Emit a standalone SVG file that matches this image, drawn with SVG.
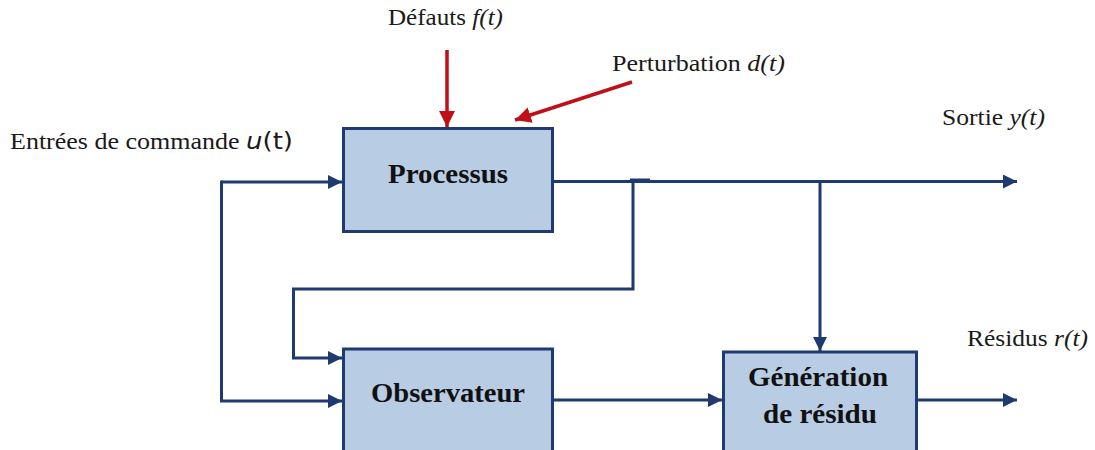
<svg xmlns="http://www.w3.org/2000/svg" width="1095" height="450" viewBox="0 0 1095 450">
<style>
.box{fill:#b8cce4;stroke:#1f3a70;stroke-width:3}
.lbl{font-family:"Liberation Serif","Times New Roman",serif;font-size:23px;fill:#1a1a1a}
.bt{font-family:"Liberation Serif","Times New Roman",serif;font-size:27px;font-weight:bold;fill:#111;text-anchor:middle}
.c{fill:none;stroke:#1f3a70;stroke-width:3}
.r{fill:none;stroke:#c00f16;stroke-width:3.5}
</style>
<defs>
<marker id="a" markerWidth="16" markerHeight="16" refX="14" refY="7" orient="auto" markerUnits="userSpaceOnUse"><path d="M0,0 L14,7 L0,14 z" fill="#1f3a70"/></marker>
<marker id="ar" markerWidth="18" markerHeight="18" refX="16" refY="8" orient="auto" markerUnits="userSpaceOnUse"><path d="M0,0 L16,8 L0,16 z" fill="#c00f16"/></marker>
</defs>
<rect width="1095" height="450" fill="#fff"/>
<g id="connectors">
<path class="c" d="M553,181.5 H1017" marker-end="url(#a)"/>
<path class="c" d="M630,180 H650"/>
<path class="c" d="M633,181.5 V289 H293.5 V358 H342" marker-end="url(#a)"/>
<path class="c" d="M820,181.5 V351" marker-end="url(#a)"/>
<path class="c" d="M221.5,182 H342" marker-end="url(#a)"/>
<path class="c" d="M221.5,180.5 V401 H342" marker-end="url(#a)"/>
<path class="c" d="M553,400 H722" marker-end="url(#a)"/>
<path class="c" d="M917,400 H1017" marker-end="url(#a)"/>
<path class="r" d="M447,50 V127" marker-end="url(#ar)"/>
<path class="r" d="M632,82 L515,120" marker-end="url(#ar)"/>
</g>
<g id="processus">
<rect class="box" x="343.5" y="128.5" width="209" height="103"/>
<text class="bt" x="448" y="183" textLength="120" lengthAdjust="spacingAndGlyphs">Processus</text>
</g>
<g id="observateur">
<rect class="box" x="343.5" y="349" width="209" height="115"/>
<text class="bt" x="448" y="402" textLength="154" lengthAdjust="spacingAndGlyphs">Observateur</text>
</g>
<g id="generation">
<rect class="box" x="723.5" y="352" width="193" height="115"/>
<text class="bt" x="818" y="386" textLength="140" lengthAdjust="spacingAndGlyphs">Génération</text>
<text class="bt" x="820" y="423" textLength="114" lengthAdjust="spacingAndGlyphs">de résidu</text>
</g>
<g id="labels">
<text class="lbl" x="388" y="25" textLength="115" lengthAdjust="spacingAndGlyphs">Défauts <tspan font-style="italic">f(t)</tspan></text>
<text class="lbl" x="612" y="71" textLength="173" lengthAdjust="spacingAndGlyphs">Perturbation <tspan font-style="italic">d(t)</tspan></text>
<text class="lbl" x="10" y="149" textLength="283" lengthAdjust="spacingAndGlyphs">Entrées de commande <tspan font-family="'DejaVu Sans',sans-serif" font-style="italic">u</tspan><tspan font-family="'DejaVu Sans',sans-serif">(t)</tspan></text>
<text class="lbl" x="942" y="125" textLength="103" lengthAdjust="spacingAndGlyphs">Sortie <tspan font-style="italic">y(t)</tspan></text>
<text class="lbl" x="967" y="346" textLength="121" lengthAdjust="spacingAndGlyphs">Résidus <tspan font-style="italic">r(t)</tspan></text>
</g>
</svg>
